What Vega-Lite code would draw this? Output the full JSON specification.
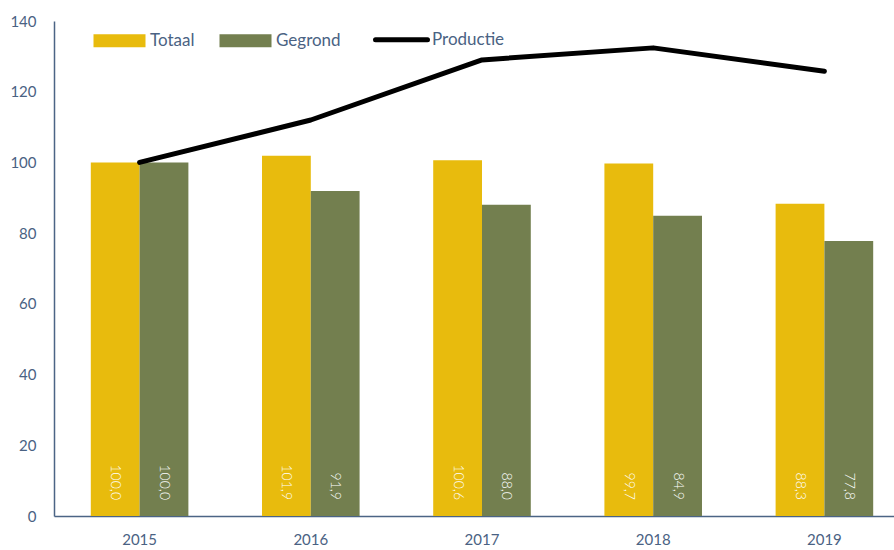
{
  "$schema": "https://vega.github.io/schema/vega-lite/v6.json",
  "width": 856,
  "height": 495,
  "autosize": {"type": "none"},
  "padding": {"left": 54, "top": 21, "right": 0, "bottom": 34},
  "background": "white",
  "config": {
    "view": {"stroke": null},
    "font": "Lato"
  },
  "datasets": {
    "bars": [
      {"jaar": "2015", "serie": "Totaal", "waarde": 100.0},
      {"jaar": "2015", "serie": "Gegrond", "waarde": 100.0},
      {"jaar": "2016", "serie": "Totaal", "waarde": 101.9},
      {"jaar": "2016", "serie": "Gegrond", "waarde": 91.9},
      {"jaar": "2017", "serie": "Totaal", "waarde": 100.6},
      {"jaar": "2017", "serie": "Gegrond", "waarde": 88.0},
      {"jaar": "2018", "serie": "Totaal", "waarde": 99.7},
      {"jaar": "2018", "serie": "Gegrond", "waarde": 84.9},
      {"jaar": "2019", "serie": "Totaal", "waarde": 88.3},
      {"jaar": "2019", "serie": "Gegrond", "waarde": 77.8}
    ],
    "prod": [
      {"jaar": "2015", "waarde": 100.0},
      {"jaar": "2016", "waarde": 112.0},
      {"jaar": "2017", "waarde": 129.0},
      {"jaar": "2018", "waarde": 132.4},
      {"jaar": "2019", "waarde": 125.8}
    ]
  },
  "encoding": {
    "x": {
      "field": "jaar",
      "type": "ordinal",
      "scale": {"paddingInner": 0.43, "paddingOuter": 0.215},
      "axis": {
        "title": null,
        "labelAngle": 0,
        "ticks": false,
        "domainColor": "#4B6485",
        "domainWidth": 1.5,
        "labelColor": "#4A6283",
        "labelFontSize": 15,
        "labelPadding": 16
      }
    }
  },
  "layer": [
    {
      "data": {"name": "bars"},
      "mark": {"type": "bar"},
      "encoding": {
        "xOffset": {"field": "serie", "sort": ["Totaal", "Gegrond"]},
        "y": {
          "field": "waarde",
          "type": "quantitative",
          "scale": {"domain": [0, 140]},
          "axis": {
            "title": null,
            "values": [0, 20, 40, 60, 80, 100, 120, 140],
            "grid": false,
            "ticks": false,
            "domainColor": "#4B6485",
            "domainWidth": 1.5,
            "labelColor": "#4A6283",
            "labelFontSize": 15,
            "labelPadding": 18
          }
        },
        "color": {
          "field": "serie",
          "type": "nominal",
          "scale": {"domain": ["Totaal", "Gegrond", "Productie"], "range": ["#E8BB0D", "#737F4F", "#000000"]},
          "legend": {
            "title": null,
            "orient": "none",
            "direction": "horizontal",
            "legendX": 57,
            "legendY": 10,
            "columnPadding": 24,
            "labelOffset": 22,
            "labelFontSize": 17,
            "labelColor": "#4A6283",
            "encode": {
              "symbols": {
                "update": {
                  "shape": {"signal": "datum.value === 'Productie' ? 'stroke' : 'M-1,-0.25H1V0.25H-1Z'"},
                  "size": {"value": 2704},
                  "strokeWidth": {"signal": "datum.value === 'Productie' ? 5 : 0"},
                  "stroke": {"signal": "datum.value === 'Productie' ? '#000000' : null"},
                  "fill": {"signal": "datum.value === 'Productie' ? null : scale('color', datum.value)"},
                  "strokeCap": {"value": "round"},
                  "opacity": {"value": 1},
                  "fillOpacity": {"value": 1}
                }
              }
            }
          }
        }
      }
    },
    {
      "data": {"name": "bars"},
      "mark": {
        "type": "text",
        "angle": 90,
        "align": "right",
        "baseline": "middle",
        "dx": -16,
        "color": "white",
        "fontSize": 14,
        "fontWeight": 300,
        "text": {"expr": "replace(format(datum.waarde, '.1f'), '.', ',')"}
      },
      "encoding": {
        "xOffset": {"field": "serie", "sort": ["Totaal", "Gegrond"]},
        "y": {"datum": 0, "type": "quantitative"},
        "detail": {"field": "waarde", "type": "quantitative"}
      }
    },
    {
      "data": {"name": "prod"},
      "mark": {"type": "line", "strokeWidth": 5, "strokeCap": "round", "strokeJoin": "round"},
      "encoding": {
        "y": {"field": "waarde", "type": "quantitative"},
        "color": {"datum": "Productie"}
      }
    }
  ]
}
